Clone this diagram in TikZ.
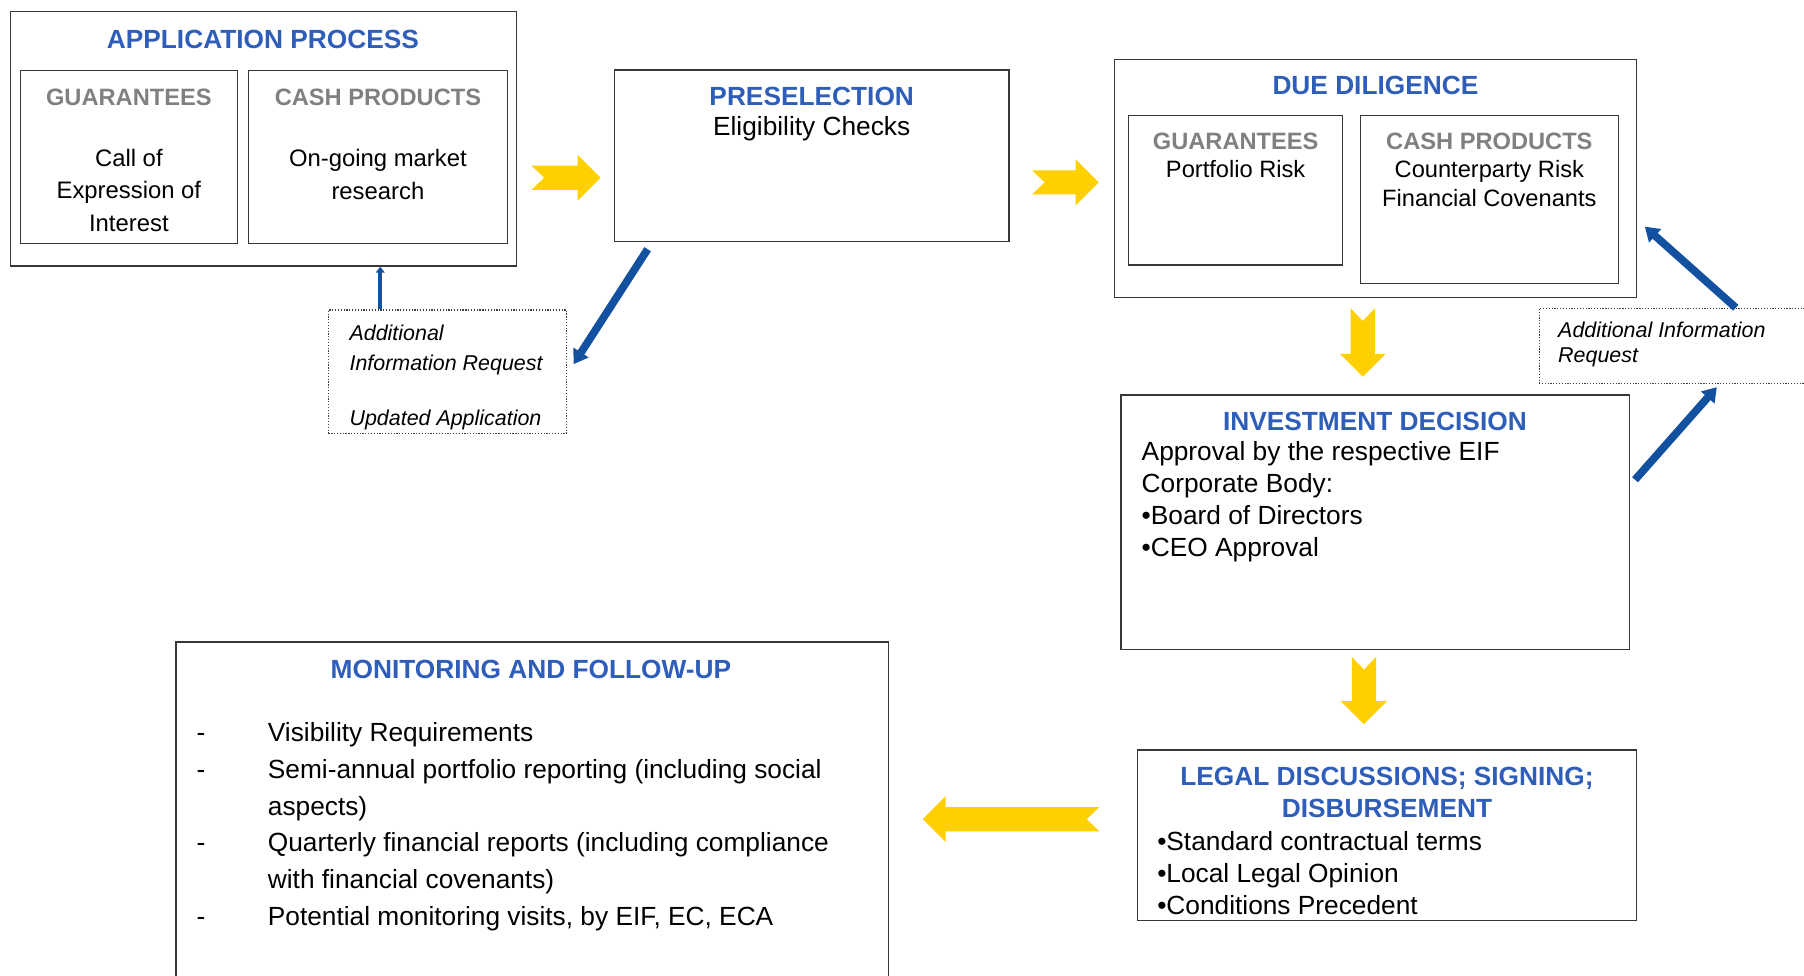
\documentclass[tikz,border=0pt]{standalone}
\usepackage{fontspec}
\setmainfont{Liberation Sans}
\usetikzlibrary{arrows.meta, calc}
\definecolor{efTitle}{RGB}{46, 94, 186}
\definecolor{efGray}{RGB}{128, 128, 128}
\definecolor{efYellow}{RGB}{255, 208, 0}
\definecolor{efBlue}{RGB}{18, 80, 160}
\definecolor{efLine}{RGB}{55, 55, 55}
\newcommand{\dashitem}[1]{\makebox[1.24cm][l]{-}#1}
\newcommand{\contline}[1]{\hspace*{1.24cm}#1}
\tikzset{
  box/.style={rectangle, draw=efLine, line width=0.7pt, inner sep=0pt},
  notebox/.style={rectangle, draw=black!75, line width=0.6pt, dash pattern=on 0.6pt off 0.8pt, inner sep=0pt},
  boxtitle/.style={inner sep=0pt, align=center, text=efTitle, font=\bfseries\fontsize{13}{15.7}\selectfont},
  headtext/.style={inner sep=0pt, text=efGray, font=\bfseries\fontsize{11.7}{14}\selectfont},
  bodytext/.style={inner sep=0pt, align=left, font=\fontsize{13}{15.7}\selectfont},
  apptext/.style={inner sep=0pt, align=center, font=\fontsize{11.8}{16.1}\selectfont},
  ddtext/.style={inner sep=0pt, align=center, font=\fontsize{11.7}{14.2}\selectfont},
  montext/.style={inner sep=0pt, align=left, font=\fontsize{13}{18.15}\selectfont},
  notetext/.style={inner sep=0pt, align=left, font=\itshape\fontsize{10.6}{#1}\selectfont},
  notetext/.default=14.5,
  bluearrow/.style={-{Triangle[length=0.24cm, width=0.3cm]}, line width=0.135cm, efBlue},
  thinarrow/.style={-{Triangle[length=0.1cm, width=0.15cm]}, line width=0.07cm, efBlue},
  pics/yarrow/.style={code={
    \fill[efYellow] (0,0.21) -- (#1-0.4,0.21) -- (#1-0.4,0.4) -- (#1,0) -- (#1-0.4,-0.4)
      -- (#1-0.4,-0.21) -- (0,-0.21) -- (0.22,0) -- cycle;
  }},
}
\begin{document}
\begin{tikzpicture}
  \useasboundingbox (0,0) rectangle (31.36,16.96);

  % application process
  \node[box, minimum width=8.79cm, minimum height=4.43cm] (app) at (4.58, 14.55) {};
  \node[box, minimum width=3.77cm, minimum height=3.0cm] (appG) at (2.24, 14.23) {};
  \node[box, minimum width=4.5cm, minimum height=3.0cm] (appC) at (6.57, 14.23) {};
  \node[boxtitle] (appT) at (4.57, 16.28) {APPLICATION PROCESS};
  \node[headtext] (appGH) at (2.24, 15.26) {GUARANTEES};
  \node[headtext] (appCH) at (6.57, 15.26) {CASH PRODUCTS};
  \node[apptext] (appGB) at (2.24, 13.65) {Call of\\Expression of\\Interest};
  \node[apptext] (appCB) at (6.57, 13.93) {On-going market\\research};

  % preselection
  \node[box, minimum width=6.86cm, minimum height=2.98cm] (pre) at (14.11, 14.25) {};
  \node[boxtitle] (preT) at (14.11, 15.28) {PRESELECTION};
  \node[bodytext] (preB) at (14.11, 14.72) {Eligibility Checks};

  % due diligence
  \node[box, minimum width=9.08cm, minimum height=4.14cm] (dd) at (23.91, 13.86) {};
  \node[box, minimum width=3.72cm, minimum height=2.6cm] (ddG) at (21.48, 13.65) {};
  \node[box, minimum width=4.49cm, minimum height=2.92cm] (ddC) at (25.89, 13.49) {};
  \node[boxtitle] (ddT) at (23.91, 15.48) {DUE DILIGENCE};
  \node[headtext] (ddGH) at (21.48, 14.51) {GUARANTEES};
  \node[headtext] (ddCH) at (25.89, 14.51) {CASH PRODUCTS};
  \node[ddtext] (ddGB) at (21.48, 14.02) {Portfolio Risk};
  \node[ddtext] (ddCB) at (25.89, 13.77) {Counterparty Risk\\Financial Covenants};

  % investment decision
  \node[box, minimum width=8.84cm, minimum height=4.42cm] (inv) at (23.91, 7.88) {};
  \node[boxtitle] (invT) at (23.9, 9.63) {INVESTMENT DECISION};
  \node[bodytext, anchor=west] (invB) at (19.84, 8.24) {Approval by the respective EIF\\Corporate Body:\\•Board of Directors\\•CEO Approval};

  % legal discussions
  \node[box, minimum width=8.68cm, minimum height=2.97cm] (legal) at (24.11, 2.44) {};
  \node[boxtitle] (legalT) at (24.11, 3.18) {LEGAL DISCUSSIONS; SIGNING;\\DISBURSEMENT};
  \node[bodytext, anchor=west] (legalB) at (20.11, 1.78) {•Standard contractual terms\\•Local Legal Opinion\\•Conditions Precedent};

  % monitoring
  \node[box, minimum width=12.38cm, minimum height=6.84cm] (mon) at (9.25, 2.38) {};
  \node[boxtitle] (monT) at (9.23, 5.32) {MONITORING AND FOLLOW-UP};
  \node[montext, anchor=west] (monB) at (3.41, 2.59) {%
    \dashitem{Visibility Requirements}\\
    \dashitem{Semi-annual portfolio reporting (including social}\\
    \contline{aspects)}\\
    \dashitem{Quarterly financial reports (including compliance}\\
    \contline{with financial covenants)}\\
    \dashitem{Potential monitoring visits, by EIF, EC, ECA}};

  % request notes
  \node[notebox, minimum width=4.14cm, minimum height=2.14cm] (infoL) at (7.78, 10.5) {};
  \node[notetext, anchor=west] (infoLT) at (6.07, 10.40) {Additional\\Information Request\\[12.7pt]Updated Application};
  \node[notebox, minimum width=5.25cm, minimum height=1.3cm] (infoR) at (29.38, 10.95) {};
  \node[notetext=12.7, anchor=west] (infoRT) at (27.08, 10.97) {Additional Information\\Request};

  % yellow flow arrows
  \pic at (9.24, 13.87) {yarrow=1.2};
  \pic at (17.94, 13.79) {yarrow=1.16};
  \pic[rotate=-90] at (23.69, 11.6) {yarrow=1.19};
  \pic[rotate=-90] at (23.71, 5.54) {yarrow=1.17};
  \pic[rotate=180] at (19.11, 2.72) {yarrow=3.07};

  % blue feedback arrows
  \coordinate (upStart) at ([xshift=-1.17cm]infoL.north);
  \draw[thinarrow] (upStart) -- (upStart |- app.south);
  \draw[bluearrow] ([shift={(0.59,-0.12)}]pre.south west) -- ([shift={(0.11,0.13)}]infoL.east);
  \draw[bluearrow] ([xshift=3.43cm]infoR.north west) -- ([shift={(0.13,-0.84)}]dd.east);
  \draw[bluearrow] ([shift={(0.08,0.74)}]inv.east) -- ([shift={(3.1,-0.06)}]infoR.south west);
\end{tikzpicture}
\end{document}
